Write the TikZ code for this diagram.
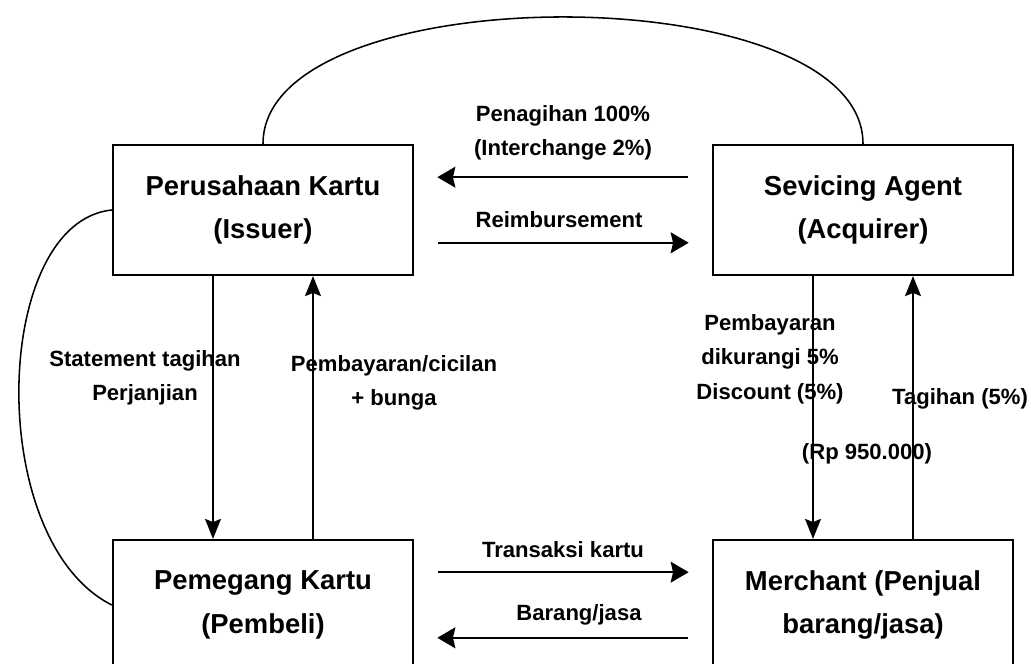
\documentclass[tikz,border=0pt]{standalone}
\usepackage{fontspec}
\setmainfont{Liberation Sans}
\usetikzlibrary{arrows.meta, positioning}
\tikzset{
	partybox/.style={draw, line width=1.6pt, minimum width=7.5cm, minimum height=3.25cm, align=center, font=\fontsize{19.5}{31}\selectfont\bfseries}
}
\tikzset{
	flowlabel/.style={align=center, font=\fontsize{15.7}{24.4}\selectfont\bfseries}
}
\tikzset{
	flowarrow/.style={line width=1.6pt, -{Stealth[length=0.45cm, width=0.52cm, inset=0.06cm]}, shorten <=0.6cm, shorten >=0.58cm}
}
\tikzset{
	sidearrow/.style={line width=1.1pt, -{Stealth[length=0.5cm, width=0.4cm, inset=0.08cm]}}
}
\begin{document}
\begin{tikzpicture}
      \useasboundingbox (0,0) rectangle (25.775,16.6);
      \clip (0,0) rectangle (25.775,16.6);
      \node[partybox] (issuer) at (6.575,11.35) {Perusahaan Kartu\\(Issuer)};
      \node[partybox] (acquirer) at (21.575,11.35) {Sevicing Agent\\(Acquirer)};
      \node[partybox] (holder) at (6.575,1.475) {Pemegang Kartu\\(Pembeli)};
      \node[partybox] (merchant) at (21.575,1.475) {Merchant (Penjual\\barang/jasa)};
      % issuer <-> acquirer
      \draw[flowarrow] ([yshift=0.82cm]acquirer.west) -- ([yshift=0.82cm]issuer.east)
        node[midway, flowlabel, yshift=1.11cm] {Penagihan 100\%\\(Interchange 2\%)};
      \draw[flowarrow] ([yshift=-0.82cm]issuer.east) -- ([yshift=-0.82cm]acquirer.west)
        node[midway, flowlabel, xshift=-0.1cm, yshift=0.575cm] {Reimbursement};
      % holder <-> merchant
      \draw[flowarrow] ([yshift=0.82cm]holder.east) -- ([yshift=0.82cm]merchant.west)
        node[midway, flowlabel, yshift=0.575cm] {Transaksi kartu};
      \draw[flowarrow] ([yshift=-0.82cm]merchant.west) -- ([yshift=-0.82cm]holder.east)
        node[midway, flowlabel, xshift=0.4cm, yshift=0.575cm] {Barang/jasa};
      % vertical flows
      \draw[sidearrow] ([xshift=-1.25cm]issuer.south) -- ([xshift=-1.25cm]holder.north)
        node[midway, flowlabel, xshift=-1.7cm, yshift=0.74cm] {Statement tagihan\\Perjanjian};
      \draw[sidearrow] ([xshift=1.25cm]holder.north) -- ([xshift=1.25cm]issuer.south)
        node[midway, flowlabel, xshift=2.025cm, yshift=0.61cm] {Pembayaran/cicilan\\+ bunga};
      \draw[sidearrow] ([xshift=-1.25cm]acquirer.south) -- ([xshift=-1.25cm]merchant.north)
        node[midway, flowlabel, xshift=-1.075cm, yshift=1.21cm] {Pembayaran\\dikurangi 5\%\\Discount (5\%)}
        node[midway, flowlabel, xshift=1.35cm, yshift=-1.16cm] {(Rp 950.000)};
      \draw[sidearrow] ([xshift=1.25cm]merchant.north) -- ([xshift=1.25cm]acquirer.south)
        node[midway, flowlabel, xshift=1.175cm, yshift=0.21cm] {Tagihan (5\%)};
      % curved links
      \draw[line width=1.1pt] (issuer.north) .. controls +(0,4.23) and +(0,4.23) .. (acquirer.north);
      \draw[line width=1.1pt] (issuer.west) .. controls +(-3.0,-0.3) and +(-3.2,1.6) .. (holder.west);
    \end{tikzpicture}
\end{document}
